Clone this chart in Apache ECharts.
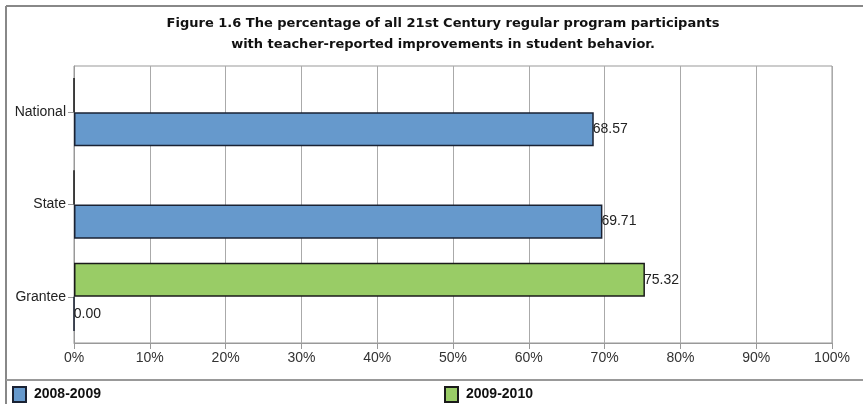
<!DOCTYPE html>
<html><head><meta charset="utf-8">
<script src="https://cdn.jsdelivr.net/npm/echarts@6/dist/echarts.min.js"></script>
<style>html,body{margin:0;padding:0;background:#fff}#c{width:863px;height:404px}</style>
</head><body><div id="c"></div>
<script>
var categories = ['National', 'State', 'Grantee'];
var series2008 = [68.57, 69.71, 0.00];
var series2009 = [0, 0, 75.32];
var showLabel2008 = [true, true, true];
var showLabel2009 = [false, false, true];
var xTicks = [0, 10, 20, 30, 40, 50, 60, 70, 80, 90, 100];

var chart = echarts.init(document.getElementById('c'));
function mk(vals, shows) {
  return vals.map(function (v, i) { return { value: v, label: { show: shows[i] } }; });
}
var lbl = { show: true, position: 'right', distance: -1, color: '#222', fontFamily: 'Arial', fontSize: 14,
  formatter: function (p) { return p.value.toFixed(2); } };
var legText = { fontFamily: 'Arial', fontWeight: 'bold', fontSize: 14, color: '#111', padding: [0, 0, 0, 3] };
chart.setOption({
  animation: false,
  title: {
    text: 'Figure 1.6 The percentage of all 21st Century regular program participants\nwith teacher-reported improvements in student behavior.',
    left: 438, top: 8, textAlign: 'center',
    textStyle: { fontFamily: 'DejaVu Sans', fontWeight: 'bold', fontSize: 13, color: '#111', lineHeight: 21 }
  },
  legend: [
    { data: ['2008-2009'], left: 7, top: 381, itemWidth: 13, itemHeight: 15, icon: 'rect', itemGap: 0, textStyle: legText },
    { data: ['2009-2010'], left: 439, top: 381, itemWidth: 13, itemHeight: 15, icon: 'rect', itemGap: 0, textStyle: legText }
  ],
  grid: { left: 74, right: 31, top: 66, bottom: 61, show: true, borderColor: '#999', borderWidth: 1 },
  xAxis: {
    type: 'value', min: 0, max: 100, interval: 10,
    axisLine: { show: true, lineStyle: { color: '#999' } },
    axisTick: { show: true, length: 6, lineStyle: { color: '#999' } },
    axisLabel: { color: '#333', fontFamily: 'Arial', fontSize: 14, margin: 8,
      formatter: function (v) { return xTicks.indexOf(v) >= 0 ? v + '%' : ''; } },
    splitLine: { show: true, lineStyle: { color: '#aaa' } }
  },
  yAxis: {
    type: 'category', data: categories, inverse: true,
    axisLine: { show: true, lineStyle: { color: '#999' } },
    axisTick: { show: true, alignWithLabel: true, length: 6, lineStyle: { color: '#999' } },
    axisLabel: { color: '#222', fontFamily: 'Arial', fontSize: 14, margin: 8 },
    splitLine: { show: false }
  },
  series: [
    { name: '2009-2010', type: 'bar', data: mk(series2009, showLabel2009), barGap: '0%', barCategoryGap: '26%',
      itemStyle: { color: '#99CC66', borderColor: '#1a1a1a', borderWidth: 1.5 }, label: lbl },
    { name: '2008-2009', type: 'bar', data: mk(series2008, showLabel2008), barGap: '0%', barCategoryGap: '26%',
      itemStyle: { color: '#6699CC', borderColor: '#1a2233', borderWidth: 1.5 }, label: lbl }
  ],
  graphic: [
    { type: 'line', shape: { x1: 6, y1: 6, x2: 863, y2: 6 }, style: { stroke: '#888', lineWidth: 2 } },
    { type: 'line', shape: { x1: 6, y1: 6, x2: 6, y2: 404 }, style: { stroke: '#888', lineWidth: 2 } },
    { type: 'line', shape: { x1: 6, y1: 380, x2: 863, y2: 380 }, style: { stroke: '#999', lineWidth: 2 } }
  ]
});
</script></body></html>
